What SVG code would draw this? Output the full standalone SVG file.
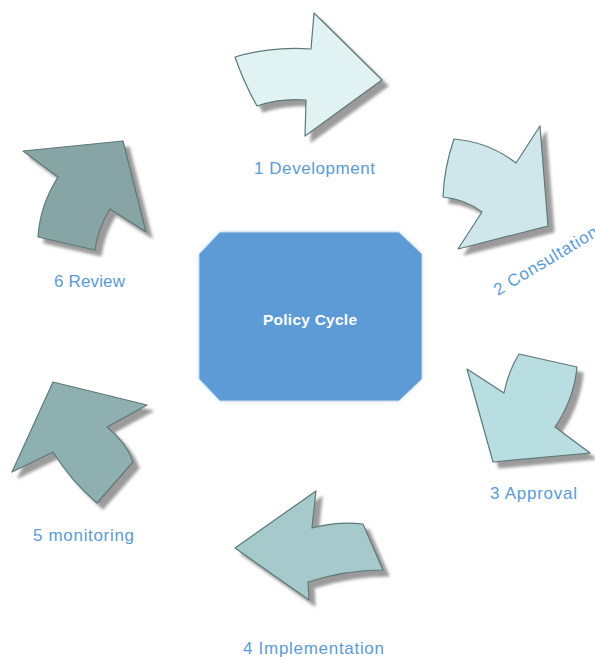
<svg xmlns="http://www.w3.org/2000/svg" width="595" height="657" viewBox="0 0 595 657">
  <style>
    .arrow { stroke: #5f7878; stroke-width: 1.2; stroke-linejoin: round; filter: url(#shadow); }
    .label { font-family: "Liberation Sans", "Open Sans", sans-serif; font-size: 17px; fill: #5b9bd5; }
    .title { font-family: "Liberation Sans", "Open Sans", sans-serif; font-size: 15.5px; font-weight: bold; fill: #ffffff; }
  </style>
  <defs>
    <filter id="shadow" x="-20%" y="-20%" width="150%" height="150%">
      <feGaussianBlur in="SourceAlpha" stdDeviation="1.8" result="blur"/>
      <feOffset in="blur" dx="6" dy="6" result="off"/>
      <feFlood flood-color="#7a7a7a" flood-opacity="0.75"/>
      <feComposite in2="off" operator="in" result="shade"/>
      <feMerge>
        <feMergeNode in="shade"/>
        <feMergeNode in="SourceGraphic"/>
      </feMerge>
    </filter>
    <filter id="glow" x="-10%" y="-10%" width="120%" height="120%">
      <feGaussianBlur in="SourceAlpha" stdDeviation="2" result="b"/>
      <feFlood flood-color="#d6e6f5" flood-opacity="0.8"/>
      <feComposite in2="b" operator="in" result="g"/>
      <feMerge>
        <feMergeNode in="g"/>
        <feMergeNode in="SourceGraphic"/>
      </feMerge>
    </filter>
  </defs>

  <rect width="595" height="657" fill="#ffffff"/>

  <!-- centre node -->
  <g id="policy-cycle">
    <polygon points="220,232 399,232 422,254 422,379 399,401 220,401 199,379 199,254" fill="#5b9bd5" stroke="#c9dcee" stroke-width="1" filter="url(#glow)"/>
    <text class="title" x="263" y="325" textLength="94" lengthAdjust="spacing">Policy Cycle</text>
  </g>

  <!-- cycle step arrows -->
  <g id="connectors">
    <g id="step-1">
      <path class="arrow" fill="#e1f2f3" d="M235,57 Q272,46 311,49 L314,13 L382,80 L305,136 L306,100 Q280,98 257,106 Q244,83 235,57 Z"/>
    </g>
    <g id="step-2">
      <path class="arrow" fill="#cfe7ea" d="M454,139 Q489,142 516,163 L540,126 L548,226 L458,249 L482,212 Q465,199 443,197 Q444,168 454,139 Z"/>
    </g>
    <g id="step-3">
      <path class="arrow" fill="#b8dee2" d="M467,369 L504,393 Q508,372 519,354 L577,367 Q574,399 555,427 L590,453 L493,462 Z"/>
    </g>
    <g id="step-4">
      <path class="arrow" fill="#a6c9cb" d="M316,491 L312,528 Q338,521 363,524 L383,570 Q345,570 308,582 L309,600 L235,548 Z"/>
    </g>
    <g id="step-5">
      <path class="arrow" fill="#8fb0b1" d="M53,382 L147,405 L107,427 Q126,442 133,462 L97,503 Q71,481 53,452 L12,472 Z"/>
    </g>
    <g id="step-6">
      <path class="arrow" fill="#88a5a5" d="M23,151 L123,141 L146,232 L110,209 Q98,228 95,250 L38,237 Q40,205 58,177 Z"/>
    </g>
  </g>

  <!-- step labels -->
  <g id="labels">
    <text class="label" x="254" y="174" textLength="121" lengthAdjust="spacing">1 Development</text>
    <text class="label" transform="translate(498,296) rotate(-31)" textLength="118" lengthAdjust="spacing">2 Consultation</text>
    <text class="label" x="490" y="499" textLength="87" lengthAdjust="spacing">3 Approval</text>
    <text class="label" x="243" y="654" textLength="141" lengthAdjust="spacing">4 Implementation</text>
    <text class="label" x="33" y="541" textLength="101" lengthAdjust="spacing">5 monitoring</text>
    <text class="label" x="54" y="287" textLength="71" lengthAdjust="spacing">6 Review</text>
  </g>
</svg>
